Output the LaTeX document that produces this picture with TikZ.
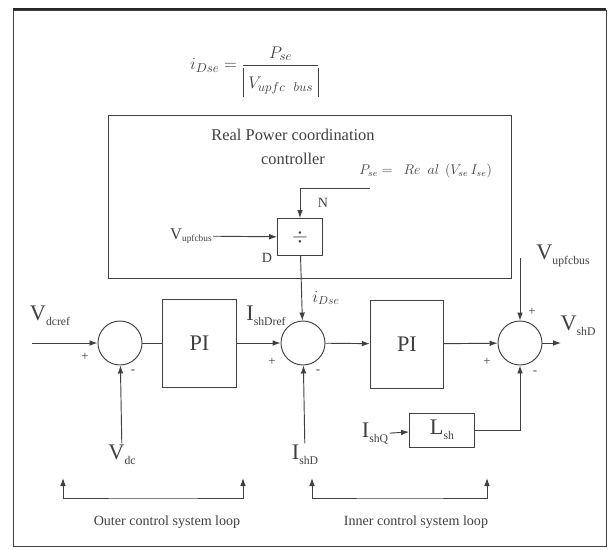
\documentclass[tikz,border=0pt]{standalone}
\usepackage{amsmath}
\usepackage{fontspec}
\setmainfont{Liberation Serif}
\usetikzlibrary{arrows.meta, positioning}
\newcommand{\lsub}[1]{\raisebox{-0.5ex}{\fontsize{10}{12}\selectfont #1}}
\newcommand{\barv}{\vrule height 2.6ex depth 1.1ex width 0.5pt}

\begin{document}
\begin{tikzpicture}[x=0.03cm, y=-0.03cm, color=black!75, line width=0.8pt,
  blk/.style={rectangle, draw, minimum width=2.2cm, minimum height=2.64cm, font=\fontsize{19}{22}\selectfont},
  sumc/.style={circle, draw, minimum size=1.32cm, inner sep=0pt},
  lbl/.style={font=\fontsize{19}{22}\selectfont, inner sep=1pt},
  sgn/.style={font=\fontsize{11}{12}\selectfont, inner sep=0pt},
  note/.style={font=\fontsize{12}{14}\selectfont, inner sep=1pt},
  arr/.style={-{Latex[length=2.4mm, width=1.7mm]}},
]
\useasboundingbox (0,0) rectangle (610,549);
% Frame
\draw (13,10) rectangle (606,546);
\draw[line width=1.8pt, black!85] (13,9) -- (606,9);

% Formula
\node[font=\fontsize{15}{18}\selectfont] (frm) at (255,72) {$i_{Dse}=\dfrac{P_{se}}{\barv\;V_{upfc\ \ bus}\;\barv}$};

% Real power coordination controller
\node[draw, minimum width=12.09cm, minimum height=4.89cm] (rpc) at (309.5,196.5) {};
\node[font=\fontsize{14}{21}\selectfont, align=center] (rpct) at (293,147) {Real Power coordination\\controller};
\node[draw, minimum width=1.35cm, minimum height=1.11cm, font=\fontsize{17}{18}\selectfont] (div) at (300,237) {$\div$};
\node[font=\fontsize{12}{14}\selectfont, anchor=west] (pse) at (355,171) {$P_{se}=\ \ Re\ \ al\ \,(V_{se}\,I_{se})$};
\coordinate (nin) at (370,188);
\node[note] (nlbl) at (323,203) {N};
\node[note] (dlbl) at (267,258) {D};
\node[font=\fontsize{14}{16}\selectfont, inner sep=1pt] (vbus1) at (191,236) {V{\fontsize{8}{9}\selectfont\raisebox{-0.6ex}{upfcbus}}};

% Outer loop
\node[lbl] (vdcref) at (50,316) {V\lsub{dcref}};
\coordinate (vin) at (32,343);
\node[sumc] (sum1) at (120,343) {};
\node[blk] (pi1) at (199.5,343) {PI};
\node[lbl] (vdc) at (122,455) {V\lsub{dc}};
\node[sgn] at (85,357) {+};
\node[sgn] at (133,372) {-};

% Current summing point
\node[sumc] (sum2) at (303,343) {};
\node[lbl] (ishdref) at (266,316) {I\lsub{shDref}};
\node[font=\fontsize{14}{16}\selectfont] (idse) at (326,298) {$i_{Dse}$};
\node[lbl] (ishd) at (305,455) {I\lsub{shD}};
\node[sgn] at (272,362) {+};
\node[sgn] at (318,372) {-};

% Inner loop
\node[blk] (pi2) at (407,344) {PI};
\node[sumc] (sum3) at (520,343) {};
\node[lbl] (vbus2) at (563,256) {V\lsub{upfcbus}};
\coordinate (vtop) at (520,258);
\coordinate (vout) at (561,343);
\node[lbl] (vshd) at (578,326) {V\lsub{shD}};
\node[draw, minimum width=1.95cm, minimum height=1.02cm, font=\fontsize{19}{22}\selectfont] (lsh) at (442,430) {L\lsub{sh}};
\node[lbl] (ishq) at (375,434) {I\lsub{shQ}};
\node[sgn] at (532,312) {+};
\node[sgn] at (487,362) {+};
\node[sgn] at (535,373) {-};

% Arrows
\draw[arr] (vin) -- (sum1);
\draw[arr] (vdc) -- (sum1);
\draw (sum1) -- (pi1);
\draw[arr] (pi1) -- (sum2);
\draw[arr] (nin) -| (div.north);
\draw[arr] (vbus1) -- (div);
\draw[arr] (div) -- (sum2);
\draw[arr] (ishd) -- (sum2);
\draw[arr] (sum2) -- (pi2);
\draw[arr] (pi2) -- (sum3);
\draw[arr] (vtop) -- (sum3);
\draw[arr] (sum3) -- (vout);
\draw[arr] (ishq) -- (lsh);
\draw[arr] (lsh) -| (sum3);

% Loop brackets
\coordinate (oa) at (63,478);
\coordinate (om) at (153,498);
\coordinate (ob) at (243,478);
\coordinate (ia) at (312,478);
\coordinate (im) at (400,498);
\coordinate (ib) at (487,478);
\draw[{Latex[length=2.4mm, width=1.7mm]}-{Latex[length=2.4mm, width=1.7mm]}] (oa) |- (om) -| (ob);
\draw[{Latex[length=2.4mm, width=1.7mm]}-{Latex[length=2.4mm, width=1.7mm]}] (ia) |- (im) -| (ib);
\node[note] (outer) at (167,522) {Outer control system loop};
\node[note] (inner) at (416,522) {Inner control system loop};
\end{tikzpicture}
\end{document}
